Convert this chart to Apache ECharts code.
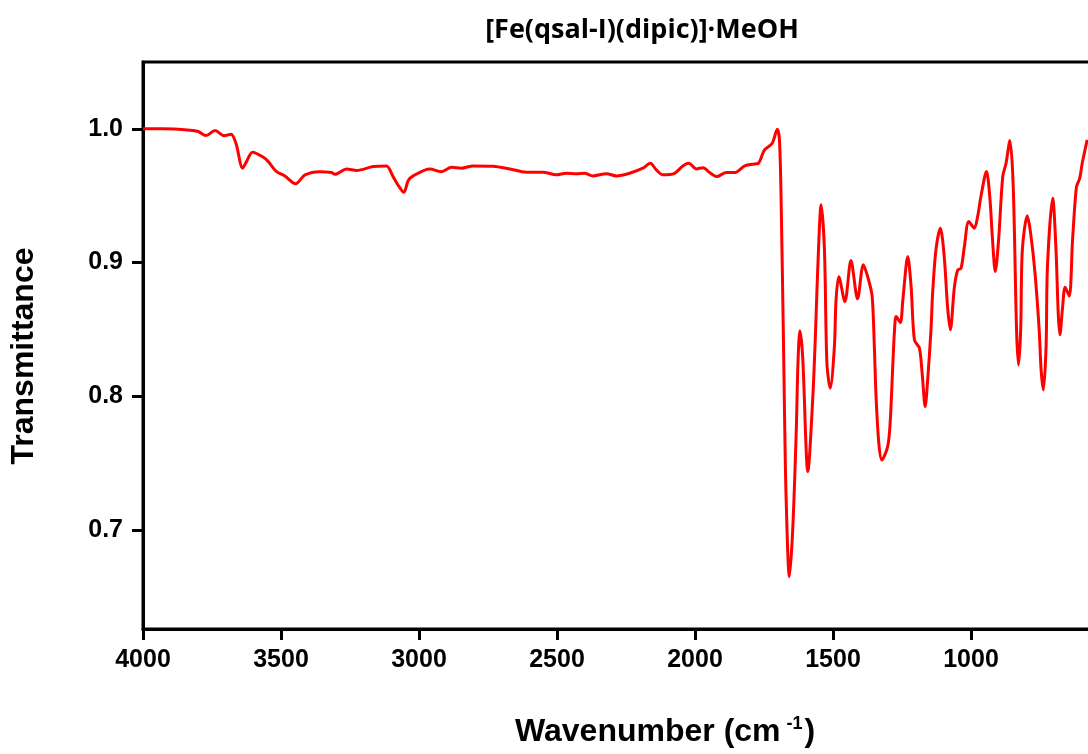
<!DOCTYPE html>
<html>
<head>
<meta charset="utf-8">
<script src="https://cdn.jsdelivr.net/npm/echarts@6/dist/echarts.min.js"></script>
<style>
html,body{margin:0;padding:0;background:#fff;overflow:hidden;width:1088px;height:754px;}
#chart{width:1200px;height:754px;}
</style>
</head>
<body>
<div id="chart"></div>
<script>
var titleText = '[Fe(qsal-I)(dipic)]\u00B7MeOH';
var xTitle = 'Wavenumber (cm';
var yTitle = 'Transmittance';
var yTicks = [0.7, 0.8, 0.9, 1.0];

var wavenumber = [
4000,3928,3830,3800,3772,3739,3706,3681,3663,3639,3625,3603,3564,3546,3516,3486,3447,3413,3359,3317,3305,3262,3226,3166,3118,3094,3076,3055,3039,3021,2961,2919,2882,2846,2804,
2732,2671,2611,2551,2502,2466,2430,2400,2370,2321,2285,2237,2189,2162,2140,2116,2074,2044,2023,1995,1971,1947,1921,1887,1857,1820,1784,1772,1748,1720,1702,1694,1688,
1679,1676,1670,1658,1646,1633,1627,1620,1610,1591,1573,1563,1555,1543,1531,1522,1510,1495,1489,1479,1457,1435,1411,1390,1371,1358,1350,1344,1334,1323,1302,1293,1283,1277,1271,1256,1247,1229,1217,1205,1187,1177,1166,1157,1145,1139,1127,1111,1097,1085,1075,1060,1048,1036,1024,1008,988,976,964,944,932,922,912,900,885,873,859,847,835,828,820,814,796,784,768,753,746,738,728,723,704,692,684,678,668,659,644,632,618,606,597,579
];
var transmittance = [
1.000,1.000,0.999,0.998,0.995,0.9987,0.9948,0.996,0.989,0.9706,0.9755,0.9826,0.9788,0.9755,0.968,0.9648,0.9589,0.9656,0.968,0.9673,0.966,0.970,0.9689,0.9718,0.9723,0.9643,0.958,0.9526,0.9613,0.9648,0.970,0.968,0.9713,0.9706,0.9723,
0.972,0.970,0.9676,0.9676,0.9656,0.9668,0.9665,0.9668,0.9648,0.9665,0.9648,0.9668,0.9706,0.9743,0.9693,0.9656,0.9668,0.9723,0.9743,0.970,0.971,0.9673,0.9643,0.9673,0.9673,0.9723,0.9738,0.974,0.9843,0.9893,0.9998,0.9918,0.9469,
0.8347,0.7923,0.725,0.6651,0.700,0.7749,0.8247,0.8490,0.8300,0.7437,0.800,0.8497,0.897,0.9432,0.9095,0.8247,0.806,0.837,0.872,0.8895,0.8708,0.9015,0.8729,0.8983,0.887,0.8746,0.836,0.800,0.7649,0.7524,0.7624,0.780,0.8247,0.8497,0.8596,0.8552,0.872,0.9045,0.882,0.8422,0.836,0.8173,0.7923,0.8123,0.8497,0.8771,0.9095,0.9257,0.9045,0.8671,0.8497,0.882,0.8945,0.8958,0.912,0.9307,0.9257,0.9344,0.9494,0.9681,0.9494,0.917,0.8933,0.917,0.9643,0.9743,0.9913,0.9568,0.8497,0.8235,0.8497,0.9095,0.935,0.922,0.892,0.8497,0.8197,0.8048,0.837,0.897,0.9482,0.9095,0.8622,0.846,0.8671,0.8816,0.875,0.917,0.9564,0.9631,0.9743,0.9918
];

var seriesData = wavenumber.map(function (w, i) { return [w, transmittance[i]]; });

var chart = echarts.init(document.getElementById('chart'), null, {renderer: 'canvas'});
var axisFont = {fontFamily: 'Liberation Sans', fontWeight: 'bold', fontSize: 25, color: '#000'};
chart.setOption({
  animation: false,
  backgroundColor: '#fff',
  title: {
    text: titleText,
    left: 637, top: 12, textAlign: 'center',
    textStyle: {fontFamily: 'Open Sans', fontWeight: 'bold', fontSize: 27, color: '#000'}
  },
  grid: {left: 143, top: 62, right: 91, bottom: 125, show: true, borderColor: '#000', borderWidth: 3, backgroundColor: 'transparent'},
  xAxis: {
    type: 'value', inverse: true, min: 500, max: 4000, interval: 500,
    axisLine: {show: true, onZero: false, lineStyle: {color: '#000', width: 3}},
    axisTick: {show: true, inside: false, length: 11, lineStyle: {color: '#000', width: 3}},
    axisLabel: Object.assign({margin: 19, formatter: function (v) { return String(v); }}, axisFont),
    splitLine: {show: false}
  },
  yAxis: {
    type: 'value', min: 0.626, max: 1.05,
    axisLine: {show: true, onZero: false, lineStyle: {color: '#000', width: 3}},
    axisTick: {show: true, inside: false, length: 11, customValues: yTicks, lineStyle: {color: '#000', width: 3}},
    axisLabel: Object.assign({margin: 20, customValues: yTicks, formatter: function (v) { return v.toFixed(1); }}, axisFont),
    splitLine: {show: false}
  },
  graphic: [
    {
      type: 'text', left: 515, top: 715,
      style: {
        text: '{a|' + xTitle + '}{s|-1}{a|)}',
        rich: {
          a: {fontFamily: 'Liberation Sans', fontWeight: 'bold', fontSize: 32, fill: '#000'},
          s: {fontFamily: 'Liberation Sans', fontWeight: 'bold', fontSize: 18, fill: '#000', verticalAlign: 'top', padding: [0, 2, 17, 6]}
        }
      }
    },
    {
      type: 'text', x: 24, y: 356, rotation: Math.PI / 2,
      style: {text: yTitle, fontFamily: 'Liberation Sans', fontWeight: 'bold', fontSize: 32, fill: '#000', align: 'center', verticalAlign: 'middle'}
    }
  ],
  series: [{
    type: 'line', data: seriesData, showSymbol: false, smooth: 0.3,
    lineStyle: {color: '#ff0000', width: 3}, itemStyle: {color: '#ff0000'}, clip: true
  }]
});
</script>
</body>
</html>
